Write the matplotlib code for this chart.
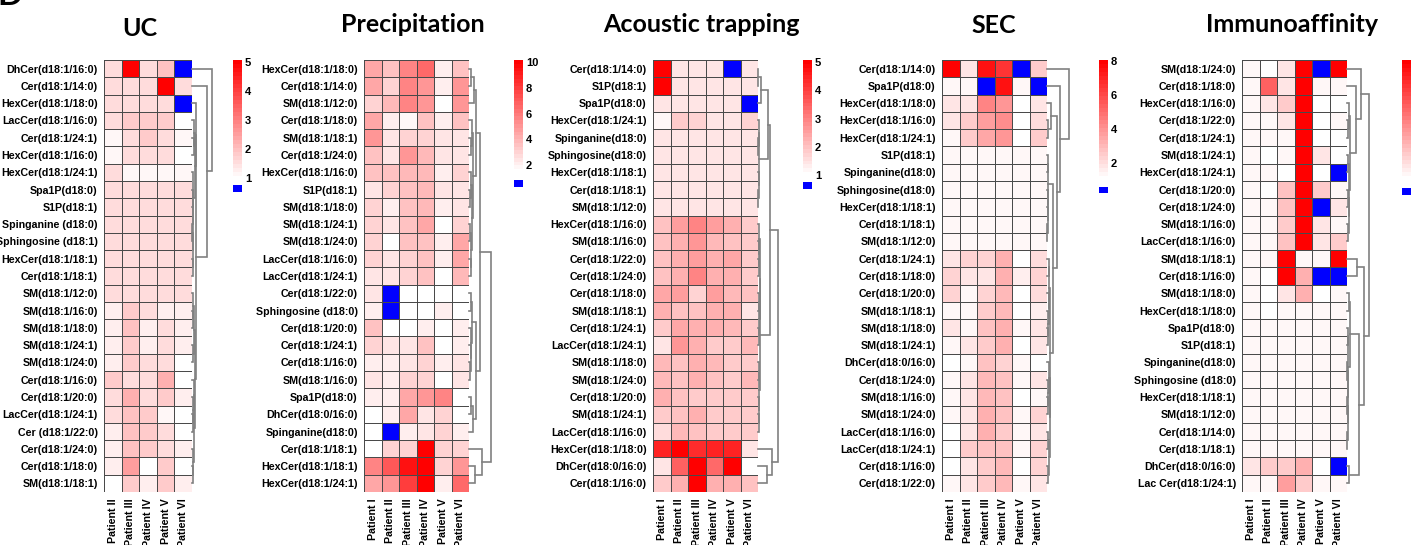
import numpy as np
import matplotlib
matplotlib.use("Agg")
import matplotlib.pyplot as plt
from matplotlib.colors import LinearSegmentedColormap, ListedColormap, Normalize
from matplotlib.cm import ScalarMappable

# ---------------- UC ----------------
uc_rows = ["DhCer(d18:1/16:0)", "Cer(d18:1/14:0)", "HexCer(d18:1/18:0)", "LacCer(d18:1/16:0)",
           "Cer(d18:1/24:1)", "HexCer(d18:1/16:0)", "HexCer(d18:1/24:1)", "Spa1P(d18:0)",
           "S1P(d18:1)", "Spinganine (d18:0)", "Sphingosine (d18:1)", "HexCer(d18:1/18:1)",
           "Cer(d18:1/18:1)", "SM(d18:1/12:0)", "SM(d18:1/16:0)", "SM(d18:1/18:0)",
           "SM(d18:1/24:1)", "SM(d18:1/24:0)", "Cer(d18:1/16:0)", "Cer(d18:1/20:0)",
           "LacCer(d18:1/24:1)", "Cer (d18:1/22:0)", "Cer(d18:1/24:0)", "Cer(d18:1/18:0)",
           "SM(d18:1/18:1)"]
uc_cols = ["Patient II", "Patient III", "Patient IV", "Patient V", "Patient VI"]
uc_vals = [
    [1.5, 5.0, 1.5, 2.0, 0.0],
    [1.5, 1.5, 1.5, 5.0, 1.5],
    [1.5, 1.5, 1.5, 1.5, 0.0],
    [1.5, 1.8, 1.8, 1.8, 1.0],
    [1.2, 1.5, 1.8, 1.5, 1.2],
    [1.2, 1.5, 1.5, 1.5, 1.0],
    [1.5, 1.2, 1.2, 1.2, 1.2],
    [1.5, 1.5, 1.5, 1.5, 1.5],
    [1.5, 1.5, 1.5, 1.5, 1.5],
    [1.5, 1.5, 1.5, 1.5, 1.5],
    [1.5, 1.5, 1.5, 1.5, 1.5],
    [1.5, 1.5, 1.5, 1.5, 1.5],
    [1.5, 1.5, 1.5, 1.5, 1.5],
    [1.5, 1.5, 1.5, 1.5, 1.5],
    [1.3, 1.8, 1.5, 1.3, 1.3],
    [1.3, 2.0, 1.3, 1.5, 1.3],
    [1.3, 1.8, 1.3, 1.5, 1.3],
    [1.3, 1.8, 1.5, 1.5, 1.0],
    [1.8, 1.5, 1.5, 2.3, 1.0],
    [1.5, 2.2, 1.5, 1.8, 1.3],
    [1.5, 2.0, 1.8, 1.2, 1.0],
    [1.3, 2.0, 1.8, 1.5, 1.0],
    [1.3, 2.0, 1.8, 1.5, 1.3],
    [1.3, 2.5, 1.0, 1.8, 1.0],
    [1.0, 1.8, 1.3, 1.8, 1.3],
]
uc_tree = [20, 0, [15, 1, [4,
          [3.5, 2, [2.5, [2, 3, [1.5, 4, 5]], [1, 6, [0.6, [0.5, 7, 8], [0.5, [0.3, 9, 10], [0.5, 11, 12]]]]]],
          [3, [1.5, [0.8, 13, [0.5, 14, 15]], [0.8, 16, 17]],
              [2, [1.5, 18, [1, 19, [0.6, 20, 21]]], [1.2, 22, [1, 23, 24]]]]]]]
uc_range = (0.93, 5.06)
uc_ticks = [1, 2, 3, 4, 5]

# ---------------- Precipitation ----------------
pr_rows = ["HexCer(d18:1/18:0)", "Cer(d18:1/14:0)", "SM(d18:1/12:0)", "Cer(d18:1/18:0)",
           "SM(d18:1/18:1)", "Cer(d18:1/24:0)", "HexCer(d18:1/16:0)", "S1P(d18:1)",
           "SM(d18:1/18:0)", "SM(d18:1/24:1)", "SM(d18:1/24:0)", "LacCer(d18:1/16:0)",
           "LacCer(d18:1/24:1)", "Cer(d18:1/22:0)", "Sphingosine (d18:0)", "Cer(d18:1/20:0)",
           "Cer(d18:1/24:1)", "Cer(d18:1/16:0)", "SM(d18:1/16:0)", "Spa1P(d18:0)",
           "DhCer(d18:0/16:0)", "Spinganine(d18:0)", "Cer(d18:1/18:1)", "HexCer(d18:1/18:1)",
           "HexCer(d18:1/24:1)"]
six_cols = ["Patient I", "Patient II", "Patient III", "Patient IV", "Patient V", "Patient VI"]
pr_vals = [
    [4.5, 3.5, 5.5, 6.5, 2.0, 3.5],
    [4.5, 3.0, 5.5, 5.0, 2.0, 5.0],
    [3.0, 4.0, 5.5, 5.0, 1.4, 5.0],
    [4.5, 2.0, 1.8, 3.5, 2.0, 3.5],
    [5.0, 2.5, 3.0, 3.0, 2.5, 2.5],
    [3.5, 2.5, 5.0, 4.0, 2.5, 2.5],
    [3.5, 3.5, 4.0, 4.0, 2.0, 3.0],
    [2.5, 3.0, 3.5, 4.0, 2.5, 2.5],
    [3.0, 2.0, 3.5, 4.0, 2.0, 2.5],
    [3.0, 2.5, 3.5, 4.5, 1.4, 3.0],
    [3.0, 1.4, 3.5, 3.5, 2.0, 4.5],
    [3.0, 2.5, 3.0, 3.5, 2.0, 4.5],
    [2.5, 2.5, 3.0, 3.5, 1.4, 4.0],
    [2.5, 0.0, 1.4, 1.4, 1.4, 1.4],
    [2.0, 0.0, 1.4, 1.4, 2.0, 1.4],
    [3.5, 1.4, 1.4, 2.0, 1.4, 2.0],
    [3.0, 2.5, 2.5, 3.5, 1.4, 2.0],
    [2.0, 2.0, 2.5, 3.0, 2.0, 2.5],
    [2.5, 2.0, 3.0, 3.0, 1.4, 2.5],
    [2.0, 2.0, 4.5, 5.0, 5.5, 1.4],
    [1.4, 2.0, 4.5, 2.5, 3.0, 1.4],
    [1.4, 0.0, 2.0, 2.5, 3.0, 2.0],
    [1.4, 3.0, 3.0, 10.0, 3.0, 3.0],
    [5.5, 7.0, 9.5, 10.0, 3.0, 5.0],
    [4.5, 5.0, 8.0, 10.0, 2.0, 6.5],
]
pr_tree = [22,
           [11,
            [7, [5, [2, 0, 1], 2],
                [4, [2.5, 3, [1.5, 4, 5]], [3, [1.5, 6, [1, 7, 8]], [2, [1, 9, 10], [1.5, 11, 12]]]]],
            [7, [3, [1.5, 13, 14], [2, 15, [1.5, 16, [1, 17, 18]]]], [4, [2, 19, 20], 21]]],
           [13, 22, [6, 23, 24]]]
pr_range = (1.4, 10.15)
pr_ticks = [2, 4, 6, 8, 10]

# ---------------- Acoustic trapping ----------------
ac_rows = ["Cer(d18:1/14:0)", "S1P(d18:1)", "Spa1P(d18:0)", "HexCer(d18:1/24:1)",
           "Spinganine(d18:0)", "Sphingosine(d18:0)", "HexCer(d18:1/18:1)", "Cer(d18:1/18:1)",
           "SM(d18:1/12:0)", "HexCer(d18:1/16:0)", "SM(d18:1/16:0)", "Cer(d18:1/22:0)",
           "Cer(d18:1/24:0)", "Cer(d18:1/18:0)", "SM(d18:1/18:1)", "Cer(d18:1/24:1)",
           "LacCer(d18:1/24:1)", "SM(d18:1/18:0)", "SM(d18:1/24:0)", "Cer(d18:1/20:0)",
           "SM(d18:1/24:1)", "LacCer(d18:1/16:0)", "HexCer(d18:1/18:0)", "DhCer(d18:0/16:0)",
           "Cer(d18:1/16:0)"]
ac_vals = [
    [5.0, 1.5, 1.5, 1.5, 0.0, 1.5],
    [5.0, 1.5, 1.5, 1.5, 1.5, 1.5],
    [1.5, 1.5, 1.5, 1.5, 1.5, 0.0],
    [1.2, 1.8, 1.7, 1.5, 1.5, 1.7],
    [1.5, 1.5, 1.5, 1.5, 1.5, 1.5],
    [1.5, 1.5, 1.5, 1.5, 1.5, 1.5],
    [1.5, 1.5, 1.5, 1.5, 1.5, 1.5],
    [1.5, 1.5, 1.5, 1.5, 1.5, 1.5],
    [1.5, 1.5, 1.5, 1.5, 1.5, 1.5],
    [2.0, 2.6, 2.9, 2.5, 2.2, 1.8],
    [2.0, 2.3, 2.7, 2.1, 2.0, 1.8],
    [2.0, 2.2, 2.5, 2.3, 2.4, 1.8],
    [2.0, 2.3, 2.9, 2.3, 2.3, 1.9],
    [2.4, 2.6, 1.7, 2.5, 2.1, 2.0],
    [2.3, 2.0, 2.0, 2.3, 2.3, 1.5],
    [1.9, 2.4, 2.3, 2.2, 2.1, 1.9],
    [1.5, 2.7, 2.2, 1.8, 1.9, 2.1],
    [2.1, 2.0, 2.3, 2.1, 1.9, 1.9],
    [2.1, 2.0, 2.2, 2.0, 1.9, 2.1],
    [2.3, 2.0, 1.8, 1.9, 1.9, 1.9],
    [1.9, 2.0, 2.2, 1.9, 1.9, 1.9],
    [1.6, 2.1, 2.0, 1.9, 1.8, 1.8],
    [4.5, 5.0, 4.3, 4.5, 4.5, 1.5],
    [1.5, 3.5, 5.0, 3.3, 5.0, 1.0],
    [1.9, 2.3, 5.0, 2.3, 2.3, 2.0],
]
ac_tree = [20,
           [12,
            [10, [3, [0.5, 0, 1], 2], [1.5, [1, 3, [0.5, 4, 5]], [0.8, 6, [0.5, 7, 8]]]],
            [2.5, [2, [1.5, 9, [1, 10, [0.8, 11, 12]]], [1.2, [1, 13, 14], [0.8, 15, 16]]],
                  [1.5, [1, 17, 18], [1.2, 19, [0.8, 20, 21]]]]],
           [14, 22, [9, 23, 24]]]
ac_range = (0.96, 5.08)
ac_ticks = [1, 2, 3, 4, 5]

# ---------------- SEC ----------------
sec_rows = ["Cer(d18:1/14:0)", "Spa1P(d18:0)", "HexCer(d18:1/18:0)", "HexCer(d18:1/16:0)",
            "HexCer(d18:1/24:1)", "S1P(d18:1)", "Spinganine(d18:0)", "Sphingosine(d18:0)",
            "HexCer(d18:1/18:1)", "Cer(d18:1/18:1)", "SM(d18:1/12:0)", "Cer(d18:1/24:1)",
            "Cer(d18:1/18:0)", "Cer(d18:1/20:0)", "SM(d18:1/18:1)", "SM(d18:1/18:0)",
            "SM(d18:1/24:1)", "DhCer(d18:0/16:0)", "Cer(d18:1/24:0)", "SM(d18:1/16:0)",
            "SM(d18:1/24:0)", "LacCer(d18:1/16:0)", "LacCer(d18:1/24:1)", "Cer(d18:1/16:0)",
            "Cer(d18:1/22:0)"]
sec_vals = [
    [8.0, 1.8, 7.5, 6.5, 0.0, 2.5],
    [1.4, 1.4, 0.0, 7.5, 1.4, 0.0],
    [1.8, 1.8, 4.5, 4.0, 1.0, 1.8],
    [1.8, 2.5, 3.8, 4.2, 1.0, 2.0],
    [1.4, 2.5, 3.5, 4.0, 1.0, 2.5],
    [1.4, 1.4, 1.4, 1.4, 1.4, 1.4],
    [1.4, 1.4, 1.4, 1.4, 1.4, 1.4],
    [1.4, 1.4, 1.4, 1.4, 1.4, 1.4],
    [1.4, 1.4, 1.4, 1.4, 1.4, 1.4],
    [1.4, 1.4, 1.4, 1.4, 1.4, 1.4],
    [1.4, 1.4, 1.4, 1.4, 1.4, 1.4],
    [1.8, 2.2, 2.2, 3.3, 1.0, 2.0],
    [2.2, 1.8, 1.8, 3.2, 1.5, 2.2],
    [2.2, 1.3, 2.2, 3.0, 1.0, 2.0],
    [1.4, 1.3, 2.5, 3.0, 1.0, 1.5],
    [1.8, 1.3, 2.8, 3.3, 1.4, 1.8],
    [1.4, 1.8, 2.5, 3.3, 1.0, 1.8],
    [1.0, 1.4, 2.8, 2.2, 1.4, 1.0],
    [1.4, 1.8, 3.0, 2.8, 1.4, 1.8],
    [1.4, 1.8, 3.0, 2.8, 1.0, 1.4],
    [1.4, 1.8, 3.2, 2.8, 1.4, 2.2],
    [1.0, 1.8, 3.2, 2.5, 1.4, 1.8],
    [1.0, 2.5, 2.8, 2.8, 1.4, 2.2],
    [1.0, 1.8, 2.5, 3.0, 1.0, 2.2],
    [1.4, 1.8, 2.5, 3.0, 1.4, 1.8],
]
sec_tree = [22, 0, [13, 1, [10,
            [4, 2, [1, 3, 4]],
            [6, [1, [0.5, 5, 6], [0.8, 7, [0.5, 8, [0.3, 9, 10]]]],
                [3, [2, [1.5, 11, 12], [1.5, 13, [1, 14, [0.8, 15, 16]]]],
                    [2.5, [1.5, 17, [1, 18, [0.8, 19, 20]]], [1.5, [1, 21, 22], [1, 23, 24]]]]]]]]
sec_range = (0.98, 8.04)
sec_ticks = [2, 4, 6, 8]

# ---------------- Immunoaffinity ----------------
im_rows = ["SM(d18:1/24:0)", "Cer(d18:1/18:0)", "HexCer(d18:1/16:0)", "Cer(d18:1/22:0)",
           "Cer(d18:1/24:1)", "SM(d18:1/24:1)", "HexCer(d18:1/24:1)", "Cer(d18:1/20:0)",
           "Cer(d18:1/24:0)", "SM(d18:1/16:0)", "LacCer(d18:1/16:0)", "SM(d18:1/18:1)",
           "Cer(d18:1/16:0)", "SM(d18:1/18:0)", "HexCer(d18:1/18:0)", "Spa1P(d18:0)",
           "S1P(d18:1)", "Spinganine(d18:0)", "Sphingosine (d18:0)", "HexCer(d18:1/18:1)",
           "SM(d18:1/12:0)", "Cer(d18:1/14:0)", "Cer(d18:1/18:1)", "DhCer(d18:0/16:0)",
           "Lac Cer(d18:1/24:1)"]
im_vals = [
    [1.2, 1.0, 1.5, 5.0, 0.0, 5.0],
    [1.2, 3.5, 1.5, 5.0, 1.2, 1.2],
    [1.2, 1.5, 1.8, 5.0, 1.0, 1.0],
    [1.2, 1.2, 1.5, 5.0, 1.0, 1.2],
    [1.2, 1.2, 1.2, 5.0, 1.0, 1.0],
    [1.2, 1.0, 1.2, 5.0, 1.5, 1.0],
    [1.2, 1.2, 1.0, 5.0, 1.0, 0.0],
    [1.2, 1.0, 2.0, 5.0, 1.8, 1.2],
    [1.2, 1.2, 2.0, 5.0, 0.0, 1.5],
    [1.2, 1.2, 1.8, 5.0, 1.5, 1.2],
    [1.2, 1.2, 2.0, 5.0, 1.5, 1.8],
    [1.2, 1.2, 5.0, 1.2, 1.2, 5.0],
    [1.2, 1.0, 5.0, 2.2, 0.0, 0.0],
    [1.2, 1.0, 1.5, 2.2, 1.0, 1.2],
    [1.2, 1.0, 1.2, 1.2, 1.2, 1.2],
    [1.2, 1.2, 1.2, 1.2, 1.2, 1.2],
    [1.2, 1.2, 1.2, 1.2, 1.2, 1.2],
    [1.2, 1.2, 1.2, 1.2, 1.2, 1.2],
    [1.2, 1.2, 1.2, 1.2, 1.2, 1.2],
    [1.2, 1.2, 1.2, 1.2, 1.2, 1.2],
    [1.2, 1.2, 1.2, 1.2, 1.2, 1.2],
    [1.2, 1.2, 1.2, 1.2, 1.2, 1.2],
    [1.2, 1.2, 1.2, 1.2, 1.2, 1.2],
    [1.5, 1.8, 1.8, 2.3, 1.0, 0.0],
    [1.2, 1.2, 2.5, 1.8, 1.2, 1.2],
]
im_tree = [22,
           [14, 0, [9, 1, [3, [1.5, 2, [1, 3, 4]],
                            [2, [1, 5, 6], [1.5, [1, 7, 8], [0.8, 9, 10]]]]]],
           [17, [10, 11, 12],
                [12, [3, [1.5, 13, 14],
                         [1, [0.5, 15, 16], [0.5, [0.3, 17, 18], [0.5, [0.3, 19, 20], [0.3, 21, 22]]]]],
                     [2, 23, 24]]]]
im_range = (1.0, 5.0)
im_ticks = []

W, H = 1411, 545
fig = plt.figure(figsize=(W / 100, H / 100), dpi=100)

label_font = "Liberation Sans"
title_font = "Lato"

base = LinearSegmentedColormap.from_list("wr", ["#ffffff", "#ff0000"])
cmap = ListedColormap(base(np.linspace(0, 1, 30)))
cmap.set_under("#0000ff")


def px_rect(x0, y0, x1, y1):
    return [x0 / W, 1 - y1 / H, (x1 - x0) / W, (y1 - y0) / H]


def draw_tree(ax, node):
    # returns (row position, height) of the node after drawing its links
    if isinstance(node, int):
        return node + 0.5, 0.0
    h, left, right = node
    yl, hl = draw_tree(ax, left)
    yr, hr = draw_tree(ax, right)
    ax.plot([hl, h, h, hr], [yl, yl, yr, yr], color="#808080", lw=1.2,
            solid_joinstyle="miter", clip_on=False)
    return (yl + yr) / 2, h


panels = [
    # title, rows, cols, values, tree, range, ticks, heat x0/x1, cbar x0, cbar bottom, blue y0, title x, title baseline
    ("UC", uc_rows, uc_cols, uc_vals, uc_tree, uc_range, uc_ticks, 104, 192, 233, 180, 185, 140, 36),
    ("Precipitation", pr_rows, six_cols, pr_vals, pr_tree, pr_range, pr_ticks, 364, 469, 514, 173, 180, 413, 32),
    ("Acoustic trapping", ac_rows, six_cols, ac_vals, ac_tree, ac_range, ac_ticks, 653, 758, 803, 176, 182, 701, 32),
    ("SEC", sec_rows, six_cols, sec_vals, sec_tree, sec_range, sec_ticks, 942, 1047, 1099, 180, 187, 994, 33),
    ("Immunoaffinity", im_rows, six_cols, im_vals, im_tree, im_range, im_ticks, 1242, 1347, 1402, 180, 188, 1292, 32),
]

top, bottom = 60, 492
for (title, rows, cols, vals, tree, vr, ticks, hx0, hx1, cbx, cbb, by, tx, ty) in panels:
    data = np.array(vals)
    norm = Normalize(vmin=vr[0], vmax=vr[1])

    ax = fig.add_axes(px_rect(hx0, top, hx1, bottom))
    ax.pcolormesh(data, cmap=cmap, norm=norm, edgecolors="#4a4a4a", linewidth=0.55)
    ax.set_xlim(0, data.shape[1])
    ax.set_ylim(data.shape[0], 0)
    ax.set_yticks(np.arange(len(rows)) + 0.5)
    ax.set_yticklabels(rows, fontsize=7.7, fontweight="bold", family=label_font)
    ax.set_xticks(np.arange(len(cols)) + 0.5)
    ax.set_xticklabels(cols, rotation=90, fontsize=7.7, fontweight="bold", family=label_font)
    ax.tick_params(length=0, pad=4.5)
    for s in ax.spines.values():
        s.set_visible(False)

    # row dendrogram on the right of the heatmap
    dax = fig.add_axes(px_rect(hx1, top, hx1 + 30, bottom))
    draw_tree(dax, tree)
    dax.set_xlim(0, 30)
    dax.set_ylim(len(rows), 0)
    dax.axis("off")

    # stepped colour key plus the blue square for values below range
    cax = fig.add_axes(px_rect(cbx, top, cbx + 9, cbb))
    cb = fig.colorbar(ScalarMappable(norm=norm, cmap=cmap), cax=cax, ticks=ticks)
    cb.outline.set_visible(False)
    cax.tick_params(length=0, pad=2, labelsize=8)
    for t in cax.get_yticklabels():
        t.set_fontweight("bold")
        t.set_family(label_font)

    bax = fig.add_axes(px_rect(cbx, by, cbx + 9, by + 6.5))
    bax.set_facecolor("#0000ff")
    bax.set_xticks([])
    bax.set_yticks([])
    for s in bax.spines.values():
        s.set_visible(False)

    fig.text(tx / W, 1 - ty / H, title, ha="center", va="baseline",
             fontsize=18, fontweight="bold", family=title_font)

fig.text(-3 / W, 1 - 5 / H, "D", ha="left", va="baseline",
         fontsize=24, fontweight="bold", family=title_font)

fig.savefig("out.png", dpi=100)
